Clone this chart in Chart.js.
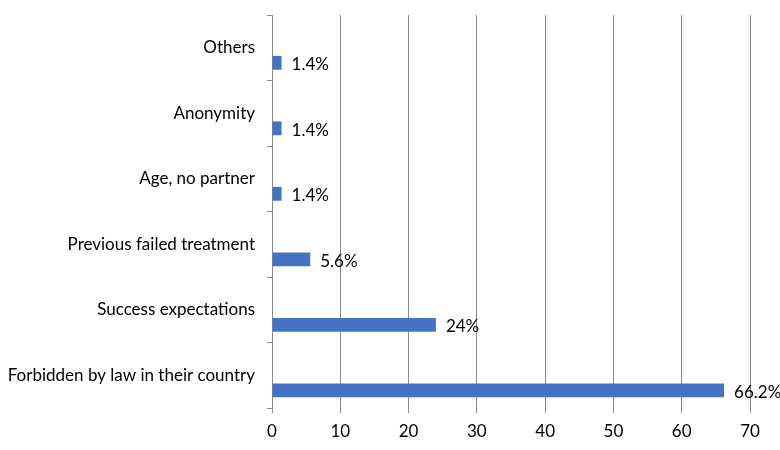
<!DOCTYPE html>
<html>
<head>
<meta charset="utf-8">
<script src="https://cdn.jsdelivr.net/npm/chart.js@4/dist/chart.umd.min.js"></script>
<style>
  html, body { margin: 0; padding: 0; background: #fff; }
  #wrap { width: 780px; height: 450px; }
</style>
</head>
<body>
<div id="wrap"><canvas id="reasons-chart" width="780" height="450"></canvas></div>
<script>
// categories, top to bottom as in the picture
const reasons = [
    'Others',
    'Anonymity',
    'Age, no partner',
    'Previous failed treatment',
    'Success expectations',
    'Forbidden by law in their country'
];
const percentages = [1.4, 1.4, 1.4, 5.6, 24, 66.2];
const emptySeries = [null, null, null, null, null, null];
const xTicks = [0, 10, 20, 30, 40, 50, 60, 70];

const valueLabels = {
    id: 'valueLabels',
    afterDatasetsDraw( chart )
    {
        const ctx = chart.ctx;
        const meta = chart.getDatasetMeta(1);
        ctx.save();
        ctx.font = '17px Lato, "Open Sans", sans-serif';
        ctx.fillStyle = '#000';
        ctx.textAlign = 'left';
        ctx.textBaseline = 'middle';
        for( let i = 0; i < meta.data.length; i++ )
        {
            const bar = meta.data[i];
            ctx.fillText( percentages[i] + '%', bar.x + 10, bar.y + 2 );
        }
        ctx.restore();
    }
};

document.addEventListener('DOMContentLoaded', function(){

    const ctx = document.getElementById('reasons-chart').getContext('2d');
    new Chart( ctx, {
        type: 'bar',
        data: {
            labels: reasons,
            datasets: [
                { data: emptySeries, backgroundColor: '#4472C4' },
                { data: percentages, backgroundColor: '#4472C4' }
            ]
        },
        options: {
            indexAxis: 'y',
            responsive: false,
            animation: false,
            categoryPercentage: 0.92,
            barPercentage: 0.46,
            layout: { padding: { top: 15, right: 30, left: 0, bottom: 0 } },
            plugins: {
                legend: { display: false },
                tooltip: { enabled: false }
            },
            scales: {
                x: {
                    min: 0,
                    max: 70,
                    afterBuildTicks: scale => { scale.ticks = xTicks.map( v => ({ value: v }) ); },
                    afterFit: scale => { scale.height = 42; },
                    border: { display: false },
                    grid: { color: '#8a8a8a', lineWidth: 1, tickLength: 5 },
                    ticks: {
                        color: '#000',
                        padding: 8,
                        font: { family: 'Lato, "Open Sans", sans-serif', size: 17 }
                    }
                },
                y: {
                    offset: true,
                    afterFit: scale => {
                        scale.width = 272;
                        scale.paddingTop = 0;
                        scale.paddingBottom = 0;
                    },
                    border: { display: true, color: '#8a8a8a', width: 1 },
                    grid: { offset: true, drawOnChartArea: false, drawTicks: true, tickLength: 5, color: '#8a8a8a' },
                    ticks: {
                        color: '#000',
                        padding: 12,
                        font: { family: 'Lato, "Open Sans", sans-serif', size: 17 }
                    }
                }
            }
        },
        plugins: [valueLabels]
    });

});
</script>
</body>
</html>
